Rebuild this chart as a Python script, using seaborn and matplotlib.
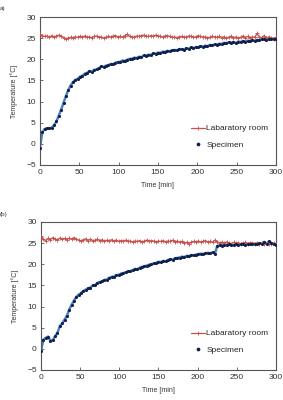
import numpy as np
import pandas as pd
import matplotlib
matplotlib.use("Agg")
import matplotlib.pyplot as plt
import seaborn as sns

# sampling times [min]
minutes = np.arange(0, 301, 3)

# panel (a)
spec_a = [-1.0, 2.8, 3.5, 3.7, 3.7, 3.8, 4.4, 5.3, 6.7, 8.1,
          9.7, 11.3, 12.7, 13.8, 14.6, 15.1, 15.4, 15.9, 16.1, 16.6,
          16.8, 17.2, 17.1, 17.5, 17.6, 17.9, 18.3, 18.2, 18.5, 18.6,
          18.9, 18.8, 19.2, 19.3, 19.4, 19.7, 19.6, 19.9, 20.1, 20.1,
          20.4, 20.3, 20.6, 20.5, 20.9, 20.8, 21.1, 21.0, 21.4, 21.3,
          21.6, 21.5, 21.8, 21.7, 22.0, 21.9, 22.1, 22.2, 22.1, 22.4,
          22.4, 22.3, 22.6, 22.5, 22.8, 22.6, 22.9, 22.8, 23.1, 23.0,
          23.2, 23.1, 23.4, 23.3, 23.5, 23.4, 23.7, 23.6, 23.9, 23.8,
          24.0, 23.9, 24.1, 23.8, 24.2, 24.1, 24.3, 24.2, 24.4, 24.3,
          24.5, 24.4, 24.6, 24.5, 24.7, 24.9, 24.6, 24.8, 24.7, 24.9,
          24.8]
room_a = [25.9, 25.6, 25.4, 25.5, 25.2, 25.6, 25.3, 25.5, 25.7, 25.4,
          25.1, 24.9, 25.0, 25.2, 25.1, 25.3, 25.2, 25.4, 25.3, 25.5,
          25.2, 25.3, 25.1, 25.4, 25.5, 25.2, 25.3, 25.0, 25.2, 25.4,
          25.3, 25.5, 25.6, 25.3, 25.4, 25.2, 25.6, 25.9, 25.4, 25.2,
          25.3, 25.5, 25.4, 25.6, 25.7, 25.5, 25.4, 25.6, 25.5, 25.7,
          25.6, 25.4, 25.3, 25.5, 25.6, 25.4, 25.2, 25.3, 25.1, 25.3,
          25.4, 25.2, 25.3, 25.5, 25.4, 25.2, 25.3, 25.6, 25.4, 25.2,
          25.3, 25.1, 25.2, 25.4, 25.3, 25.2, 25.4, 25.1, 25.3, 25.0,
          25.2, 25.4, 25.1, 25.3, 25.0, 25.2, 25.5, 25.1, 25.4, 25.0,
          25.3, 25.2, 26.1, 25.3, 25.1, 25.6, 25.0, 25.3, 25.1, 24.9,
          25.2]

# panel (b)
spec_b = [-0.5, 2.2, 2.6, 2.9, 1.9, 2.1, 3.0, 3.8, 5.4, 6.0,
          6.9, 7.8, 9.3, 10.4, 11.4, 12.3, 12.8, 13.2, 13.7, 14.0,
          14.3, 14.5, 15.0, 15.1, 15.6, 15.8, 16.0, 16.3, 16.4, 16.8,
          17.0, 17.1, 17.4, 17.5, 17.8, 17.9, 18.1, 18.3, 18.4, 18.6,
          18.9, 18.8, 19.2, 19.4, 19.5, 19.7, 19.9, 20.0, 20.2, 20.3,
          20.6, 20.5, 20.8, 20.7, 21.0, 21.2, 21.1, 21.4, 21.5, 21.6,
          21.8, 21.7, 22.0, 21.9, 22.2, 22.1, 22.3, 22.4, 22.5, 22.4,
          22.6, 22.7, 22.6, 22.8, 22.5, 24.3, 24.5, 24.4, 24.6, 24.5,
          24.7, 24.5, 24.6, 24.8, 24.6, 24.7, 24.9, 24.6, 24.8, 24.7,
          24.9, 24.8, 24.7, 25.0, 24.9, 25.3, 24.8, 25.4, 25.1, 24.7,
          24.5]
room_b = [26.8, 25.9, 25.6, 26.1, 25.8, 26.3, 26.0, 25.7, 26.2, 25.9,
          26.1, 25.8, 26.2, 25.9, 26.3, 26.0, 25.7, 25.5, 25.8, 26.0,
          25.6, 25.9, 25.5, 25.7, 25.9, 25.6, 25.8, 25.5, 25.7, 25.6,
          25.8, 25.5, 25.7, 25.4, 25.6, 25.5, 25.7, 25.4, 25.5, 25.3,
          25.5, 25.4, 25.6, 25.3, 25.5, 25.7, 25.4, 25.6, 25.5, 25.3,
          25.5, 25.4, 25.6, 25.3, 25.5, 25.4, 25.7, 25.3, 25.5, 25.2,
          25.4, 25.0, 25.2, 24.9, 25.3, 25.4, 25.3, 25.5, 25.2, 25.4,
          25.6, 25.3, 25.4, 25.2, 25.7, 25.3, 25.1, 25.2, 25.0, 25.3,
          25.1, 24.9, 25.2, 25.0, 25.1, 24.9, 25.0, 25.2, 24.9, 25.1,
          25.0, 24.9, 25.1, 24.8, 25.0, 24.9, 25.1, 24.8, 24.9, 25.0,
          24.9]

panels = [("a)", spec_a, room_a), ("(b)", spec_b, room_b)]

sns.set_style("ticks")
plt.rcParams['font.family'] = ['Liberation Sans', 'DejaVu Sans']

fig = plt.figure(figsize=(2.83, 4.0), dpi=100)
ax_pos = [[0.141, 0.5875, 0.834, 0.37], [0.145, 0.075, 0.830, 0.37]]
label_pos = [(0.0, 0.985), (0.0, 0.47)]

red = "#c8504a"
for (tag, spec, room), pos, lpos in zip(panels, ax_pos, label_pos):
    ax = fig.add_axes(pos)
    df = pd.DataFrame({"t": minutes, "spec": spec, "room": room})

    sns.lineplot(data=df, x="t", y="room", ax=ax, color=red, lw=0.9,
                 marker="+", markersize=3, markeredgewidth=0.6,
                 markeredgecolor=red, label="Labaratory room", zorder=3)
    sns.lineplot(data=df, x="t", y="spec", ax=ax, color="#4f81bd", lw=1.8,
                 legend=False, zorder=2)
    sns.scatterplot(data=df, x="t", y="spec", ax=ax, color="#0d1f4a", s=5,
                    linewidth=0, label="Specimen", zorder=4)

    ax.set_xlim(0, 300)
    ax.set_ylim(-5, 30)
    ax.set_xticks(range(0, 301, 50))
    ax.set_yticks(range(-5, 31, 5))
    ax.tick_params(direction="in", length=2, width=0.5, labelsize=6,
                   colors="#333333", pad=3)
    for sp in ax.spines.values():
        sp.set_linewidth(0.8)
        sp.set_color("#555555")
    ax.set_xlabel("Time [min]", fontsize=5, color="#333333", labelpad=4)
    ax.set_ylabel("Temperature [°C]", fontsize=5, color="#333333", labelpad=6)
    ax.legend(loc="lower right", bbox_to_anchor=(1.0, 0.06), frameon=False,
              fontsize=6, handlelength=1.6, handletextpad=0.2,
              labelspacing=1.0, markerscale=1.2)
    fig.text(lpos[0], lpos[1], tag, fontsize=4.5, color="#333333",
             ha="left", va="top")

fig.savefig("out.png", dpi=100)
